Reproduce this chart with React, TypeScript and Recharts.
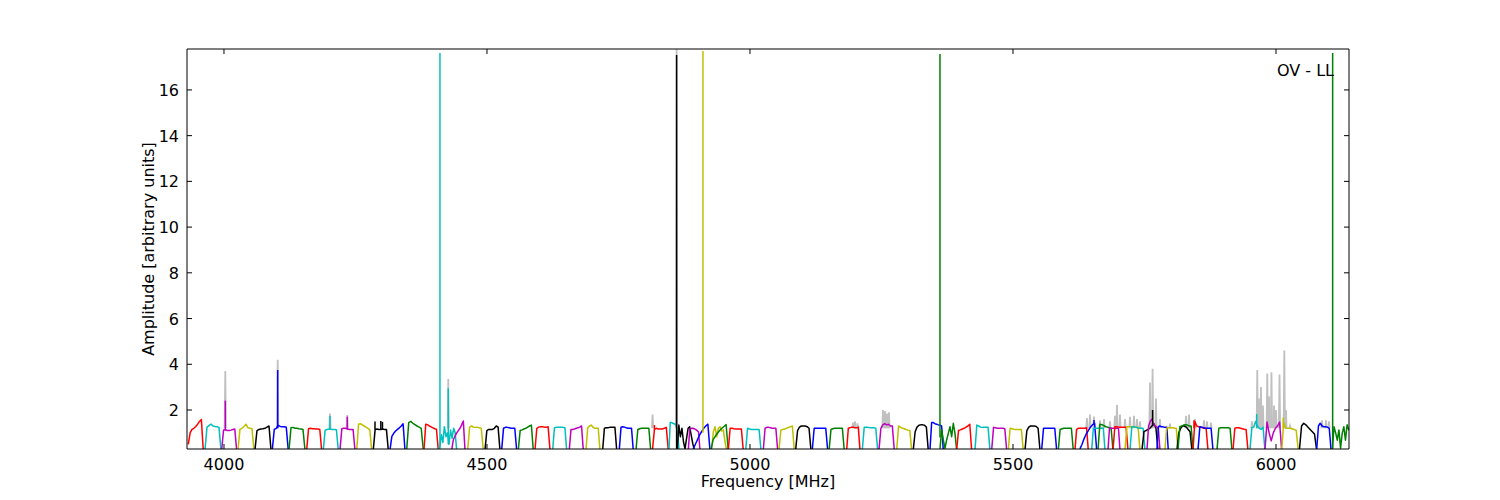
import React from 'react';
import { LineChart, Line, XAxis, YAxis } from 'recharts';

const palette: Record<string, string> = {
  r: '#ff0000',
  c: '#00bfbf',
  m: '#bf00bf',
  y: '#bfbf00',
  k: '#000000',
  b: '#0000ff',
  g: '#008000',
};
const grayColor = '#c0c0c0';

const xTicks = [4000, 4500, 5000, 5500, 6000];
const yTicks = [2, 4, 6, 8, 10, 12, 14, 16];
const xDomain: [number, number] = [3929.7, 6138.8];
const yDomain: [number, number] = [0.294, 17.79];

// spectral windows: colour, start / end frequency [MHz], amplitudes across the window
const windowColors = [
  'r', 'c', 'm', 'y', 'k', 'b', 'g', 'r', 'c', 'm', 'y', 'k', 'b', 'g',
  'r', 'c', 'm', 'y', 'k', 'b', 'g', 'r', 'c', 'm', 'y', 'k', 'b', 'g',
  'r', 'c', 'k', 'm', 'b', 'y', 'g',
  'r', 'c', 'm', 'y', 'k', 'b', 'g', 'r', 'c', 'm', 'y', 'k', 'b', 'g',
  'r', 'c', 'm', 'y', 'k', 'b', 'g',
  'r', 'b', 'c', 'g', 'm', 'r', 'y', 'c', 'k', 'm', 'b', 'y', 'k', 'g', 'r', 'b',
  'g', 'r', 'c', 'm', 'y', 'k', 'b', 'g',
];

const windowStart = [
  3932.1, 3963.9, 3995.6, 4026.6, 4058.9, 4091.8, 4123.6, 4157.2, 4188.8, 4220.5, 4252.3, 4283.8, 4315.6, 4347.3,
  4380.2, 4407.4, 4432.9, 4463.3, 4496.2, 4527.9, 4559.5, 4591.2, 4624.9, 4656.4, 4688.2, 4719.9, 4751.5, 4783.3,
  4814.6, 4846.0, 4861.8, 4882.7, 4892.2, 4927.2, 4925.8,
  4958.7, 4991.8, 5025.3, 5055.1, 5086.8, 5118.4, 5150.4, 5183.8, 5213.5, 5245.2, 5278.9, 5310.4, 5342.2, 5361.2,
  5392.9, 5427.7, 5459.5, 5491.0, 5522.8, 5554.5, 5586.1,
  5617.8, 5627.3, 5649.6, 5661.6, 5680.6, 5690.1, 5712.9, 5722.4, 5745.2, 5754.7, 5773.7, 5788.9, 5811.7, 5813.6, 5842.2, 5851.7,
  5887.8, 5918.2, 5950.5, 5979.0, 6010.8, 6044.5, 6077.3, 6107.2,
];

const windowEnd = [
  3960.6, 3994.3, 4024.1, 4057.0, 4089.4, 4122.2, 4154.0, 4185.7, 4217.3, 4249.0, 4280.8, 4312.4, 4344.1, 4378.9,
  4407.4, 4442.4, 4458.2, 4492.9, 4524.7, 4556.4, 4588.0, 4619.8, 4651.5, 4683.1, 4714.8, 4746.6, 4778.1, 4811.2,
  4844.7, 4865.0, 4894.1, 4904.9, 4923.9, 4955.7, 4958.7,
  4987.2, 5020.9, 5052.6, 5084.2, 5115.9, 5147.7, 5179.2, 5209.1, 5242.8, 5274.3, 5307.4, 5338.9, 5367.5, 5392.9,
  5421.4, 5456.2, 5488.0, 5519.5, 5551.3, 5583.0, 5614.6,
  5643.1, 5659.1, 5674.9, 5690.1, 5703.4, 5718.6, 5741.4, 5750.9, 5775.6, 5779.4, 5795.2, 5813.6, 5840.2, 5842.2, 5870.7, 5880.2,
  5916.3, 5946.7, 5979.0, 6010.8, 6042.3, 6077.3, 6104.7, 6141.4,
];

const windowAmps: number[][] = [
  [0.5, 1.0, 1.15, 1.2, 1.28, 1.38, 1.5, 1.58, 0.25],
  [0.25, 1.25, 1.32, 1.38, 1.3, 1.28, 1.27, 1.24, 0.25],
  [0.25, 1.12, 1.15, 1.1, 1.1, 1.12, 1.15, 1.17, 0.25],
  [0.25, 1.15, 1.2, 1.28, 1.38, 1.22, 1.2, 1.18, 0.25],
  [0.25, 1.1, 1.15, 1.17, 1.18, 1.2, 1.25, 1.3, 0.25],
  [0.25, 1.15, 1.2, 1.33, 1.28, 1.27, 1.27, 1.25, 0.25],
  [0.25, 1.22, 1.24, 1.2, 1.2, 1.18, 1.17, 1.15, 0.25],
  [0.25, 1.18, 1.2, 1.18, 1.18, 1.17, 1.17, 1.15, 0.25],
  [0.25, 1.12, 1.15, 1.17, 1.16, 1.15, 1.15, 1.14, 0.25],
  [0.25, 1.18, 1.2, 1.2, 1.17, 1.15, 1.15, 1.15, 0.25],
  [0.25, 1.38, 1.4, 1.35, 1.3, 1.25, 1.2, 1.13, 0.25],
  [0.25, 1.15, 1.17, 1.15, 1.15, 1.17, 1.15, 1.15, 0.25],
  [0.25, 0.85, 0.98, 1.08, 1.15, 1.22, 1.3, 1.4, 0.25],
  [0.25, 1.45, 1.5, 1.42, 1.36, 1.3, 1.25, 1.2, 0.25],
  [0.25, 1.38, 1.36, 1.3, 1.26, 1.22, 1.18, 1.16, 0.25],
  [0.25, 0.4, 0.92, 0.58, 1.27, 0.83, 1.0, 0.5, 1.12, 0.76, 1.2, 1.0, 0.25],
  [0.25, 0.7, 0.85, 1.0, 1.1, 1.2, 1.35, 1.52, 0.25],
  [0.25, 1.25, 1.3, 1.25, 1.24, 1.24, 1.22, 1.2, 0.25],
  [0.25, 1.1, 1.15, 1.15, 1.15, 1.2, 1.3, 1.25, 0.25],
  [0.25, 1.2, 1.24, 1.24, 1.22, 1.2, 1.2, 1.2, 0.25],
  [0.25, 1.1, 1.13, 1.17, 1.2, 1.25, 1.3, 1.34, 0.25],
  [0.25, 1.2, 1.25, 1.27, 1.27, 1.25, 1.25, 1.27, 0.25],
  [0.25, 1.22, 1.24, 1.24, 1.24, 1.24, 1.24, 1.22, 0.25],
  [0.25, 1.15, 1.15, 1.17, 1.2, 1.22, 1.25, 1.3, 0.25],
  [0.25, 1.22, 1.3, 1.34, 1.25, 1.2, 1.2, 1.2, 0.25],
  [0.25, 1.2, 1.22, 1.22, 1.24, 1.24, 1.24, 1.24, 0.25],
  [0.25, 1.25, 1.27, 1.25, 1.22, 1.2, 1.2, 1.2, 0.25],
  [0.25, 1.15, 1.18, 1.2, 1.2, 1.2, 1.2, 1.2, 0.25],
  [0.25, 1.15, 1.2, 1.17, 1.17, 1.17, 1.2, 1.24, 0.25],
  [0.25, 1.45, 1.45, 1.42, 1.4, 1.38, 1.3, 1.0, 0.25],
  [0.3, 1.34, 0.83, 1.2, 0.61, 0.3, 0.76, 1.2, 1.27, 0.9, 0.54, 0.25],
  [0.25, 1.15, 1.2, 1.2, 1.18, 1.15, 1.1, 1.05, 0.25],
  [0.3, 0.5, 0.7, 0.9, 1.05, 1.2, 1.3, 1.38, 0.25],
  [0.3, 1.05, 1.27, 0.83, 1.2, 1.27, 1.08, 1.13, 0.6, 0.25],
  [0.25, 0.7, 0.85, 0.98, 1.1, 1.2, 1.28, 1.36, 0.25],
  [0.25, 1.2, 1.2, 1.18, 1.17, 1.17, 1.17, 1.17, 0.25],
  [0.25, 1.2, 1.17, 1.15, 1.15, 1.15, 1.15, 1.15, 0.25],
  [0.25, 1.2, 1.24, 1.24, 1.22, 1.2, 1.2, 1.2, 0.25],
  [0.25, 1.12, 1.15, 1.17, 1.2, 1.24, 1.27, 1.3, 0.25],
  [0.25, 1.1, 1.25, 1.3, 1.3, 1.3, 1.27, 1.2, 0.25],
  [0.25, 1.2, 1.2, 1.2, 1.2, 1.2, 1.2, 1.2, 0.25],
  [0.25, 1.15, 1.18, 1.2, 1.2, 1.2, 1.2, 1.2, 0.25],
  [0.25, 1.2, 1.22, 1.25, 1.25, 1.22, 1.22, 1.25, 0.25],
  [0.25, 1.24, 1.24, 1.24, 1.22, 1.22, 1.22, 1.2, 0.25],
  [0.25, 1.2, 1.35, 1.4, 1.35, 1.38, 1.3, 1.3, 0.25],
  [0.25, 1.3, 1.25, 1.2, 1.18, 1.15, 1.12, 1.1, 0.25],
  [0.25, 1.05, 1.25, 1.33, 1.35, 1.35, 1.33, 1.25, 0.25],
  [0.25, 1.45, 1.45, 1.4, 1.38, 1.35, 1.33, 1.3, 0.25],
  [0.3, 1.13, 0.69, 0.32, 0.69, 0.98, 1.27, 0.83, 1.42, 0.98, 0.25],
  [0.25, 1.1, 1.13, 1.17, 1.2, 1.25, 1.3, 1.38, 0.25],
  [0.25, 1.34, 1.3, 1.25, 1.24, 1.24, 1.24, 1.24, 0.25],
  [0.25, 1.24, 1.22, 1.2, 1.2, 1.2, 1.2, 1.18, 0.25],
  [0.25, 1.2, 1.18, 1.16, 1.15, 1.15, 1.15, 1.15, 0.25],
  [0.25, 1.1, 1.25, 1.3, 1.3, 1.3, 1.28, 1.2, 0.25],
  [0.25, 1.2, 1.2, 1.2, 1.2, 1.2, 1.2, 1.2, 0.25],
  [0.25, 1.15, 1.18, 1.2, 1.2, 1.2, 1.2, 1.2, 0.25],
  [0.25, 1.15, 1.2, 1.2, 1.2, 1.2, 1.2, 1.22, 0.25],
  [0.3, 0.5, 0.75, 0.95, 1.1, 1.25, 1.35, 1.42, 0.25],
  [0.25, 1.2, 1.2, 1.2, 1.2, 1.2, 1.2, 1.2, 0.25],
  [0.25, 1.38, 1.36, 1.32, 1.28, 1.25, 1.22, 1.2, 0.25],
  [0.25, 1.2, 1.2, 1.2, 1.2, 1.2, 1.2, 1.2, 0.25],
  [0.25, 1.27, 1.27, 1.25, 1.25, 1.25, 1.25, 1.25, 0.25],
  [0.25, 1.27, 1.27, 1.27, 1.25, 1.25, 1.25, 1.25, 0.25],
  [0.25, 1.27, 1.27, 1.25, 1.22, 1.2, 1.2, 1.2, 0.25],
  [0.25, 1.05, 1.1, 1.15, 1.2, 1.3, 1.4, 1.2, 0.25],
  [0.25, 1.3, 1.5, 1.6, 1.4, 1.3, 1.25, 1.2, 0.25],
  [0.25, 1.27, 1.3, 1.27, 1.27, 1.25, 1.25, 1.25, 0.25],
  [0.25, 1.2, 1.22, 1.22, 1.22, 1.22, 1.2, 1.2, 0.25],
  [0.25, 1.0, 1.2, 1.3, 1.3, 1.25, 1.15, 1.05, 0.25],
  [0.25, 1.27, 1.3, 1.34, 1.36, 1.34, 1.3, 1.3, 0.25],
  [0.25, 1.5, 1.3, 1.27, 1.25, 1.22, 1.2, 1.2, 0.25],
  [0.25, 1.27, 1.25, 1.22, 1.2, 1.2, 1.2, 1.2, 0.25],
  [0.25, 1.2, 1.22, 1.22, 1.22, 1.22, 1.22, 1.2, 0.25],
  [0.25, 1.2, 1.22, 1.22, 1.2, 1.18, 1.16, 1.15, 0.25],
  [0.25, 1.22, 1.25, 1.5, 1.3, 1.2, 1.15, 1.25, 0.25],
  [0.25, 1.47, 1.0, 0.65, 1.0, 1.2, 1.3, 1.47, 0.25],
  [0.25, 1.45, 1.2, 1.2, 1.2, 1.18, 1.15, 1.12, 0.25],
  [0.25, 1.3, 1.42, 1.35, 1.25, 1.15, 1.05, 0.95, 0.25],
  [0.25, 1.3, 1.42, 1.3, 1.27, 1.27, 1.25, 1.2, 0.25],
  [0.3, 1.27, 1.0, 0.68, 1.13, 0.33, 0.98, 1.27, 0.68, 1.35, 1.13, 1.1],
];

// narrow coloured spikes (RFI): colour, frequency, base, peak
const spikeColors = ['m', 'b', 'c', 'm', 'k', 'k', 'k', 'c', 'c', 'r', 'k', 'y', 'g', 'b', 'k', 'r', 'c', 'y', 'g'];
const spikeFreqs = [4002.5, 4102.1, 4201.5, 4234.4, 4287.1, 4298.2, 4301.3, 4410.6, 4426.4, 4818.4, 4860.5, 4910.6, 5361.2, 5654.0, 5765.4, 5844.1, 5963.3, 6013.8, 6107.7];
const spikeBase = [1.1, 1.2, 1.15, 1.15, 1.15, 1.15, 1.15, 0.3, 0.5, 1.15, 0.3, 1.0, 0.8, 1.35, 1.3, 1.2, 1.2, 1.2, 0.3];
const spikePeak = [2.41, 3.75, 1.74, 1.71, 1.5, 1.52, 1.48, 17.62, 2.95, 1.34, 17.53, 17.7, 17.57, 1.56, 2.0, 1.55, 1.82, 1.67, 17.62];

// unflagged data shown in grey underneath
const grayFreqs = [
  4002.5, 4102.1, 4201.5, 4234.4, 4426.4, 4814.8, 4860.5,
  5195.8, 5199.7, 5204.4, 5252.8, 5256.6, 5260.4, 5264.2,
  5640.6, 5646.4, 5654.0, 5665.4, 5673.0, 5684.4, 5693.8, 5697.7, 5703.4, 5712.9, 5722.4, 5730.0, 5735.7, 5741.4,
  5760.4, 5765.4, 5771.8, 5779.4, 5798.4, 5828.9, 5834.6, 5846.0, 5863.1, 5868.8, 5876.4,
  5954.3, 5964.4, 5967.6, 5971.4, 5975.2, 5983.4, 5986.7, 5991.4, 5996.2, 6000.0, 6006.7, 6015.8, 6019.0, 6026.6,
  6087.4, 6095.0, 6100.7,
];
const grayPeaks = [
  3.7, 4.2, 1.84, 1.78, 3.35, 1.8, 17.8,
  1.45, 1.5, 1.42, 2.0, 1.95, 1.85, 1.9,
  1.65, 1.8, 1.71, 1.55, 1.6, 1.5, 1.75, 2.22, 1.8, 1.6, 1.7, 1.75, 1.6, 1.5,
  3.2, 3.8, 2.5, 1.6, 1.4, 1.75, 1.8, 1.6, 1.55, 1.5, 1.45,
  1.5, 3.75, 2.5, 3.0, 2.2, 3.6, 2.6, 3.65, 2.2, 2.0, 3.55, 4.6, 2.0, 1.3,
  1.55, 1.55, 1.5,
];
const grayBase = 1.2;
const grayHalfWidth = 1.2;

type Pt = { f: number; a: number };

const windowSeries = windowStart.map((s, i) => {
  const amps = windowAmps[i];
  const e = windowEnd[i];
  const n = amps.length;
  const data: Pt[] = amps.map((a, j) => ({ f: s + ((e - s) * j) / (n - 1), a }));
  return { color: palette[windowColors[i]], data };
});

const spikeSeries = spikeFreqs.map((f, i) => ({
  color: palette[spikeColors[i]],
  data: [
    { f, a: spikeBase[i] },
    { f, a: spikePeak[i] },
  ] as Pt[],
}));

const graySeries = grayFreqs.map((f, i) => ({
  data: [
    { f: f - grayHalfWidth, a: grayBase },
    { f, a: grayPeaks[i] },
    { f: f + grayHalfWidth, a: grayBase },
  ] as Pt[],
}));

const FONT = '"DejaVu Sans", Verdana, sans-serif';
const FS = 16;
const TICK_LEN = 5;
const TS = 6; // recharts tickSize
const TM = 2; // recharts tickMargin

function BottomTick(props: any) {
  const { x, y, payload } = props;
  const axisY = y - TS - TM;
  return (
    <g>
      <line x1={x} x2={x} y1={axisY} y2={axisY - TICK_LEN} stroke="#000" strokeWidth={1} />
      <text x={x} y={axisY + 21} textAnchor="middle" fontFamily={FONT} fontSize={FS} fill="#000">
        {payload.value}
      </text>
    </g>
  );
}

function TopTick(props: any) {
  const { x, y } = props;
  const axisY = y + TS + TM;
  return <line x1={x} x2={x} y1={axisY} y2={axisY + TICK_LEN} stroke="#000" strokeWidth={1} />;
}

function LeftTick(props: any) {
  const { x, y, payload } = props;
  const axisX = x + TS + TM;
  return (
    <g>
      <line x1={axisX} x2={axisX + TICK_LEN} y1={y} y2={y} stroke="#000" strokeWidth={1} />
      <text x={axisX - 8} y={y + 6} textAnchor="end" fontFamily={FONT} fontSize={FS} fill="#000">
        {payload.value}
      </text>
    </g>
  );
}

function RightTick(props: any) {
  const { x, y } = props;
  const axisX = x - TS - TM;
  return <line x1={axisX} x2={axisX - TICK_LEN} y1={y} y2={y} stroke="#000" strokeWidth={1} />;
}

const W = 1484;
const H = 484;

export default function App() {
  return (
    <div style={{ position: 'relative', width: W, height: H }}>
      <LineChart width={W} height={H} margin={{ top: 40, right: 142, bottom: 13, left: 119 }}>
        <XAxis
          xAxisId={0}
          type="number"
          dataKey="f"
          domain={xDomain}
          allowDataOverflow
          ticks={xTicks}
          interval={0}
          height={30}
          tickSize={TS}
          tickMargin={TM}
          tickLine={false}
          axisLine={{ stroke: '#000', strokeWidth: 1 }}
          tick={(p: any) => <BottomTick {...p} />}
        />
        <XAxis
          xAxisId="top"
          orientation="top"
          type="number"
          dataKey="f"
          domain={xDomain}
          allowDataOverflow
          ticks={xTicks}
          interval={0}
          height={1}
          tickSize={TS}
          tickMargin={TM}
          tickLine={false}
          axisLine={{ stroke: '#000', strokeWidth: 1 }}
          tick={(p: any) => <TopTick {...p} />}
        />
        <YAxis
          yAxisId={0}
          type="number"
          domain={yDomain}
          allowDataOverflow
          ticks={yTicks}
          interval={0}
          width={60}
          tickSize={TS}
          tickMargin={TM}
          tickLine={false}
          axisLine={{ stroke: '#000', strokeWidth: 1 }}
          tick={(p: any) => <LeftTick {...p} />}
        />
        <YAxis
          yAxisId="right"
          orientation="right"
          type="number"
          domain={yDomain}
          allowDataOverflow
          ticks={yTicks}
          interval={0}
          width={1}
          tickSize={TS}
          tickMargin={TM}
          tickLine={false}
          axisLine={{ stroke: '#000', strokeWidth: 1 }}
          tick={(p: any) => <RightTick {...p} />}
        />
        {graySeries.map((s, i) => (
          <Line
            key={'gray' + i}
            data={s.data}
            dataKey="a"
            type="linear"
            stroke={grayColor}
            strokeWidth={1.8}
            dot={false}
            activeDot={false}
            isAnimationActive={false}
          />
        ))}
        {windowSeries.map((s, i) => (
          <Line
            key={'win' + i}
            data={s.data}
            dataKey="a"
            type="linear"
            stroke={s.color}
            strokeWidth={1.5}
            strokeLinejoin="round"
            dot={false}
            activeDot={false}
            isAnimationActive={false}
          />
        ))}
        {spikeSeries.map((s, i) => (
          <Line
            key={'spk' + i}
            data={s.data}
            dataKey="a"
            type="linear"
            stroke={s.color}
            strokeWidth={1.5}
            dot={false}
            activeDot={false}
            isAnimationActive={false}
          />
        ))}
      </LineChart>
      <svg
        width={W}
        height={H}
        style={{ position: 'absolute', left: 0, top: 0, pointerEvents: 'none' }}
      >
        <text x={760} y={479} textAnchor="middle" fontFamily={FONT} fontSize={FS} fill="#000">
          Frequency [MHz]
        </text>
        <text
          x={146}
          y={241}
          transform="rotate(-90 146 241)"
          textAnchor="middle"
          fontFamily={FONT}
          fontSize={FS}
          fill="#000"
        >
          Amplitude [arbitrary units]
        </text>
        <text x={1326} y={68} textAnchor="end" fontFamily={FONT} fontSize={FS} fill="#000">
          OV - LL
        </text>
      </svg>
    </div>
  );
}
